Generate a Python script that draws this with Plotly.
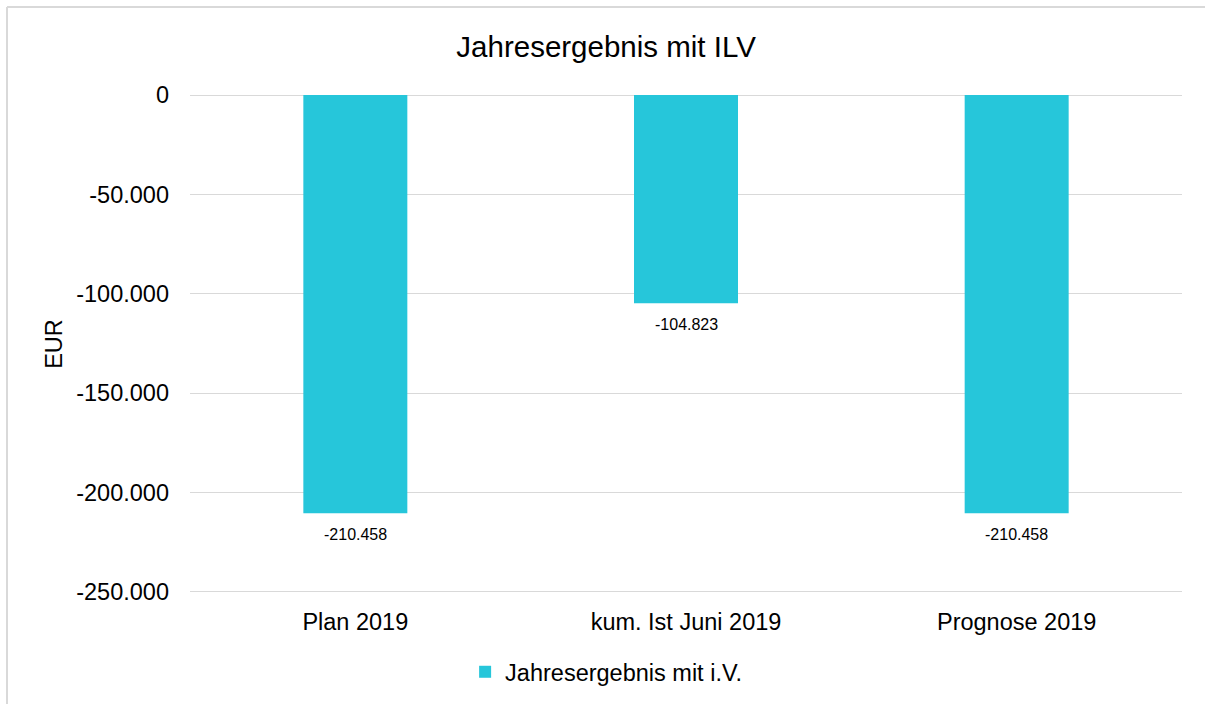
import plotly.graph_objects as go

categories = ["Plan 2019", "kum. Ist Juni 2019", "Prognose 2019"]
values = [-210458, -104823, -210458]
series_name = "Jahresergebnis mit i.V."
tick_vals = [0, -50000, -100000, -150000, -200000, -250000]
tick_labels = ["0", "-50.000", "-100.000", "-150.000", "-200.000", "-250.000"]
title_text = "Jahresergebnis mit ILV"
y_title = "EUR"

W, H = 1205, 704
ML, MR, MT, MB = 190, 23, 95, 111
PW, PH = W - ML - MR, H - MT - MB

def px_to_paper_x(px):
    return (px - ML) / PW

def px_to_paper_y(py):
    return (H - MB - py) / PH

FONT = "Arial, 'Liberation Sans', sans-serif"
BAR = "#26C6DA"
GRID = "#D9D9D9"

labels = [f"{v:,}".replace(",", ".") for v in values]

fig = go.Figure()
fig.add_trace(go.Bar(
    x=categories, y=values, name=series_name,
    marker=dict(color=BAR, line=dict(width=0)),
    showlegend=True,
))

annotations = [
    dict(x=c, y=v, text=t, xref="x", yref="y", showarrow=False,
         yanchor="top", yshift=-11,
         font=dict(size=16, color="#000000", family=FONT))
    for c, v, t in zip(categories, values, labels)
]

fig.update_layout(
    width=W, height=H,
    margin=dict(l=ML, r=MR, t=MT, b=MB, pad=0),
    paper_bgcolor="white", plot_bgcolor="white",
    font=dict(family=FONT, color="#000000", size=23.5),
    title=dict(text=title_text, x=0.503, xref="container", xanchor="center",
               y=1 - 47 / H, yref="container", yanchor="middle",
               font=dict(size=29.5, color="#000000", family=FONT)),
    bargap=0.6855,
    showlegend=True,
    legend=dict(orientation="h", xref="container", x=0.503, xanchor="center",
                yref="container", y=1 - 672 / H, yanchor="middle",
                font=dict(size=23.5, color="#000000", family=FONT),
                itemwidth=30, itemsizing="constant"),
    annotations=annotations,
    shapes=[
        dict(type="line", xref="paper", yref="paper",
             x0=px_to_paper_x(7), x1=px_to_paper_x(W + 10),
             y0=px_to_paper_y(7), y1=px_to_paper_y(7),
             line=dict(color=GRID, width=2)),
        dict(type="line", xref="paper", yref="paper",
             x0=px_to_paper_x(7), x1=px_to_paper_x(7),
             y0=px_to_paper_y(7), y1=px_to_paper_y(H + 10),
             line=dict(color=GRID, width=2)),
    ],
)

fig.update_xaxes(showline=False, showgrid=False, ticks="", ticklabelstandoff=12,
                 tickfont=dict(size=23.5, color="#000000", family=FONT))
fig.update_yaxes(range=[-250600, 0], tickvals=tick_vals, ticktext=tick_labels,
                 showgrid=True, gridcolor=GRID, gridwidth=1.3,
                 zeroline=True, zerolinecolor=GRID, zerolinewidth=1.3,
                 showline=False, ticks="", ticklabelstandoff=20,
                 tickfont=dict(size=23.5, color="#000000", family=FONT),
                 title=dict(text=y_title, standoff=6,
                            font=dict(size=23.5, color="#000000", family=FONT)))

fig.write_html("out.html", config={"displayModeBar": False},
               post_script="document.body.style.margin='0';document.body.style.overflow='hidden';")
